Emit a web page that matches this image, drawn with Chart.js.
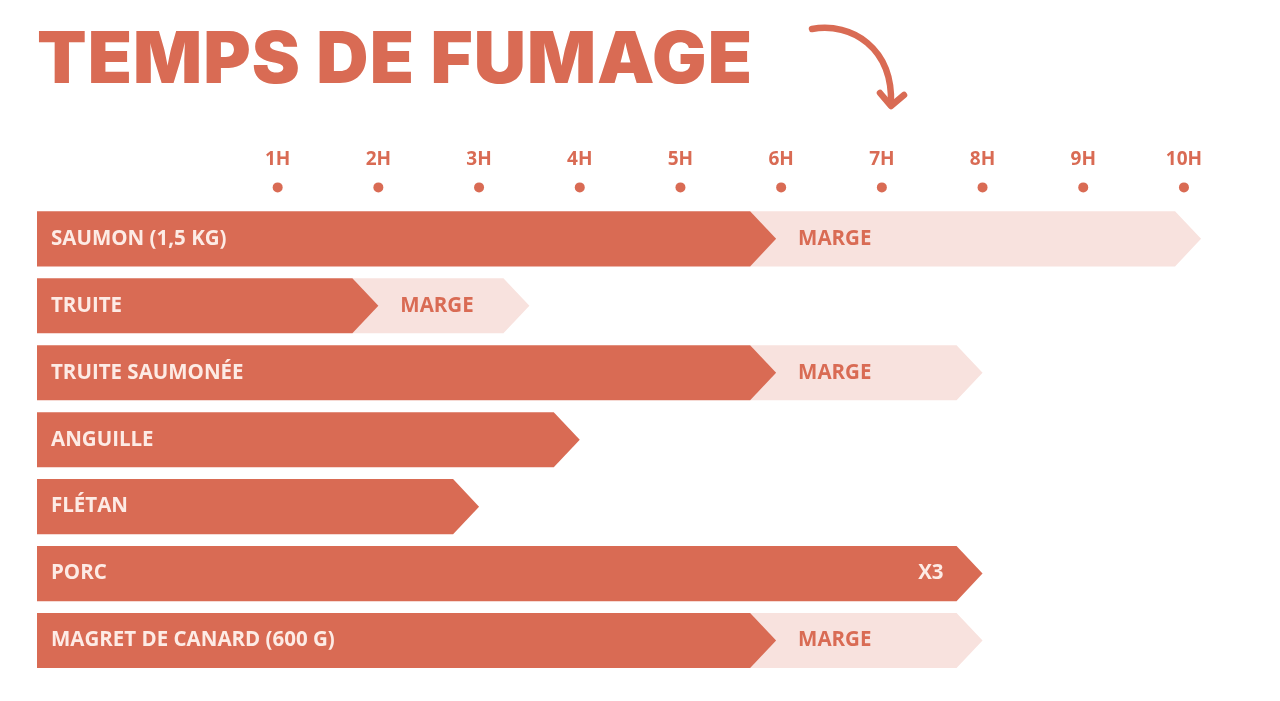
<!DOCTYPE html>
<html lang="fr">
<head>
<meta charset="utf-8">
<title>Temps de fumage</title>
<script src="https://cdn.jsdelivr.net/npm/chart.js@4.4.1/dist/chart.umd.min.js"></script>
<style>
  html, body { margin: 0; padding: 0; background: #ffffff; }
  #wrap { position: relative; width: 1280px; height: 701px; overflow: hidden; }
  #chartCanvas { position: absolute; left: 0; top: 0; }
  h1 {
    position: absolute; left: 37px; top: 22px; margin: 0;
    font-family: Inter, Roboto, sans-serif; font-weight: 900; font-size: 71px;
    letter-spacing: 1px; color: #d96b54; line-height: 1; white-space: nowrap;
    transform-origin: 0 0;
  }
  #curl { position: absolute; left: 0; top: 0; }
</style>
</head>
<body>
<div id="wrap">
  <canvas id="chartCanvas" width="1280" height="701"></canvas>
  <h1 id="title">TEMPS DE FUMAGE</h1>
  <svg id="curl" width="1280" height="140">
    <path d="M 812 29 C 852 22, 893 48, 891 104" fill="none" stroke="#d96b54" stroke-width="6.5" stroke-linecap="round"/>
    <path d="M 880 93 L 891 106 L 904 95" fill="none" stroke="#d96b54" stroke-width="6.5" stroke-linecap="round" stroke-linejoin="round"/>
  </svg>
</div>
<script>
// Data
const categories = ['SAUMON (1,5 KG)', 'TRUITE', 'TRUITE SAUMONÉE', 'ANGUILLE', 'FLÉTAN', 'PORC', 'MAGRET DE CANARD (600 G)'];
const fumage = [5.95, 2, 5.95, 4, 3, 8, 5.95];      // heures de fumage
const marge = [10.17, 3.5, 8, null, null, null, 8]; // fin de la marge
const notes = ['', '', '', '', '', 'X3', ''];
const hourTicks = [1, 2, 3, 4, 5, 6, 7, 8, 9, 10];
const AXIS_MIN = -1.39;
const AXIS_MAX = 10.8;

const CORAL = '#d96b54';
const PINK = '#f8e2de';
const LABEL_WHITE = '#fdebe5';
const TIP = 26;
const LABEL_FONT = '700 20.5px "Open Sans", sans-serif';

// the poster title uses a wide heavy face: widen Inter Black to the same span
const title = document.getElementById('title');
const titleW = title.getBoundingClientRect().width - 1;
title.style.transform = 'scaleX(' + (715 / titleW) + ')';

const ctx = document.getElementById('chartCanvas').getContext('2d');

function arrowShape(c, left, right, y, h, color) {
    const top = y - h / 2, bottom = y + h / 2;
    c.beginPath();
    c.moveTo(left, top);
    c.lineTo(right - TIP, top);
    c.lineTo(right, y);
    c.lineTo(right - TIP, bottom);
    c.lineTo(left, bottom);
    c.closePath();
    c.fillStyle = color;
    c.fill();
}

// Draws the arrow-shaped bars, the labels and the hour dots
const arrowBars = {
    id: 'arrowBars',
    afterDatasetsDraw(chart) {
        const c = chart.ctx;
        const mainMeta = chart.getDatasetMeta(0);
        const margeMeta = chart.getDatasetMeta(1);
        const xs = chart.scales.x;
        c.save();

        // dots under the hours
        c.fillStyle = CORAL;
        hourTicks.forEach(h => {
            c.beginPath();
            c.arc(xs.getPixelForValue(h), chart.chartArea.top - 18, 5, 0, Math.PI * 2);
            c.fill();
        });

        // marge first, main bar on top
        margeMeta.data.forEach((el, i) => {
            if (marge[i] == null) return;
            const p = el.getProps(['x', 'y', 'base', 'height'], true);
            arrowShape(c, p.base - TIP, p.x, p.y, p.height, PINK);
        });
        mainMeta.data.forEach((el, i) => {
            const p = el.getProps(['x', 'y', 'base', 'height'], true);
            arrowShape(c, p.base, p.x, p.y, p.height, CORAL);

            c.font = LABEL_FONT;
            c.textBaseline = 'middle';
            c.fillStyle = LABEL_WHITE;
            c.textAlign = 'left';
            c.fillText(categories[i], p.base + 14, p.y);
            if (notes[i]) {
                c.textAlign = 'right';
                c.fillText(notes[i], p.x - TIP - 13, p.y);
            }
            if (marge[i] != null) {
                c.textAlign = 'left';
                c.fillStyle = CORAL;
                c.fillText('MARGE', p.x + 22, p.y);
            }
        });
        c.restore();
    }
};

new Chart(ctx, {
    type: 'bar',
    data: {
        labels: categories,
        datasets: [
            {
                label: 'Fumage',
                data: fumage.map(v => [AXIS_MIN, v]),
                backgroundColor: 'rgba(0,0,0,0)',
                grouped: false,
                categoryPercentage: 1,
                barPercentage: 0.823
            },
            {
                label: 'Marge',
                data: marge.map((v, i) => v == null ? null : [fumage[i], v]),
                backgroundColor: 'rgba(0,0,0,0)',
                grouped: false,
                categoryPercentage: 1,
                barPercentage: 0.823
            }
        ]
    },
    options: {
        indexAxis: 'y',
        responsive: false,
        devicePixelRatio: 1,
        animation: false,
        layout: { padding: { left: 37, right: 15.5, top: 114.6, bottom: 27 } },
        scales: {
            x: {
                position: 'top',
                min: AXIS_MIN,
                max: AXIS_MAX,
                afterBuildTicks: scale => { scale.ticks = hourTicks.map(v => ({ value: v })); },
                grid: { display: false, drawTicks: false },
                border: { display: false },
                ticks: {
                    autoSkip: false,
                    maxRotation: 0,
                    padding: 34,
                    color: CORAL,
                    font: { family: '"Open Sans", sans-serif', weight: '700', size: 19 },
                    callback: v => v + 'H'
                }
            },
            y: { display: false }
        },
        plugins: {
            legend: { display: false },
            tooltip: { enabled: false }
        }
    },
    plugins: [arrowBars]
});
</script>
</body>
</html>
